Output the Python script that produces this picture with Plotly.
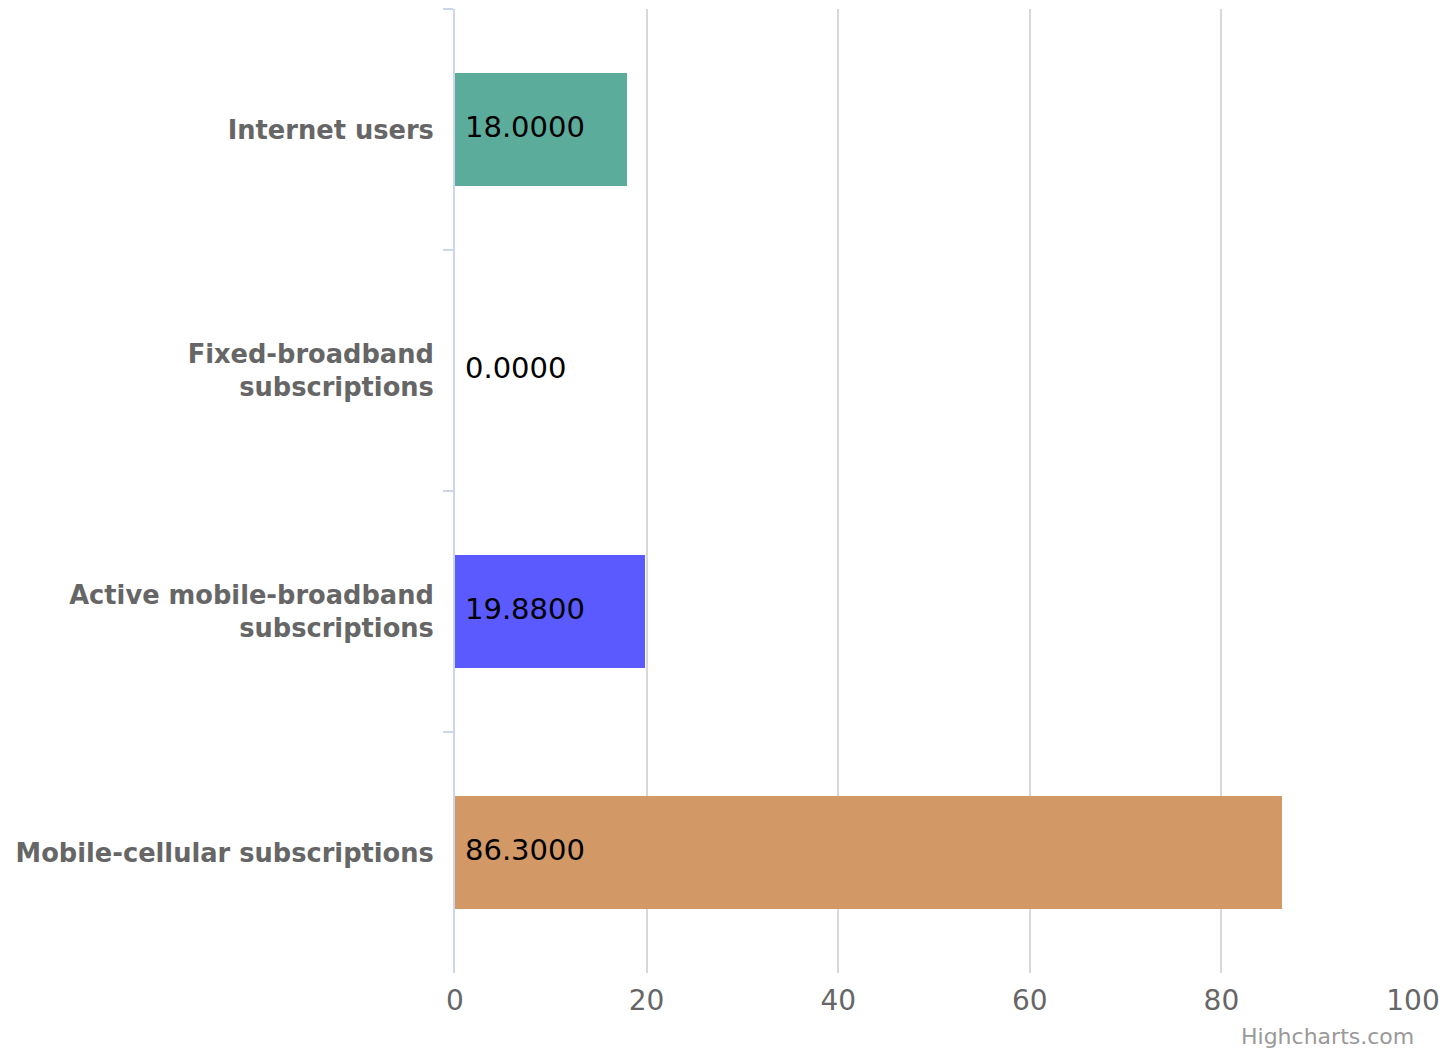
import plotly.graph_objects as go

# ─── Data ─────────────────────────────────────────────────────────────────────

categories = [
    "Internet users",
    "Fixed-broadband<br>subscriptions",
    "Active mobile-broadband<br>subscriptions",
    "Mobile-cellular subscriptions",
]
values = [18.0, 0.0, 19.88, 86.3]
bar_colors = ["#5cac9c", "#5cac9c", "#5a5aff", "#d29967"]
x_ticks = [0, 20, 40, 60, 80, 100]

FONT = "DejaVu Sans"

fig = go.Figure()

fig.add_trace(go.Bar(
    x=values,
    y=categories,
    orientation="h",
    width=0.47,
    marker=dict(color=bar_colors, line=dict(width=0)),
    hoverinfo="x+y",
    showlegend=False,
))

# data labels, left aligned at the start of each bar
for cat, v in zip(categories, values):
    fig.add_annotation(
        x=0, y=cat, xref="x", yref="y",
        text=f"{v:.4f}",
        xanchor="left", yanchor="middle",
        xshift=8,
        yshift=3,
        showarrow=False,
        font=dict(family=FONT, size=29, color="#000000"),
    )

# credit
fig.add_annotation(
    x=1.0, y=0, xref="paper", yref="paper",
    yshift=-63, xshift=3,
    text="Highcharts.com",
    xanchor="right", yanchor="middle",
    showarrow=False,
    font=dict(family=FONT, size=22, color="#999999"),
)

fig.update_xaxes(
    range=[0, 100],
    tickvals=x_ticks,
    showgrid=True,
    gridcolor="#d8d8d8",
    gridwidth=2,
    zeroline=False,
    showline=False,
    ticks="",
    ticklabelstandoff=8,
    tickfont=dict(family=FONT, size=28, color="#666666"),
)
fig.update_yaxes(
    categoryorder="array",
    categoryarray=categories,
    autorange="reversed",
    showgrid=False,
    showline=True,
    linecolor="#ccd6eb",
    linewidth=2,
    ticks="outside",
    tickson="boundaries",
    ticklen=10,
    tickwidth=2,
    tickcolor="#ccd6eb",
    ticklabelstandoff=14,
    tickfont=dict(family=FONT, size=25.7, color="#666666", weight="bold"),
)

# page body has an 8px margin, so offset the plot area to match
fig.update_layout(
    width=1448,
    height=1052,
    paper_bgcolor="#ffffff",
    plot_bgcolor="#ffffff",
    margin=dict(l=447, r=43, t=1, b=87),
    bargap=0,
)

fig.write_html("out.html")
